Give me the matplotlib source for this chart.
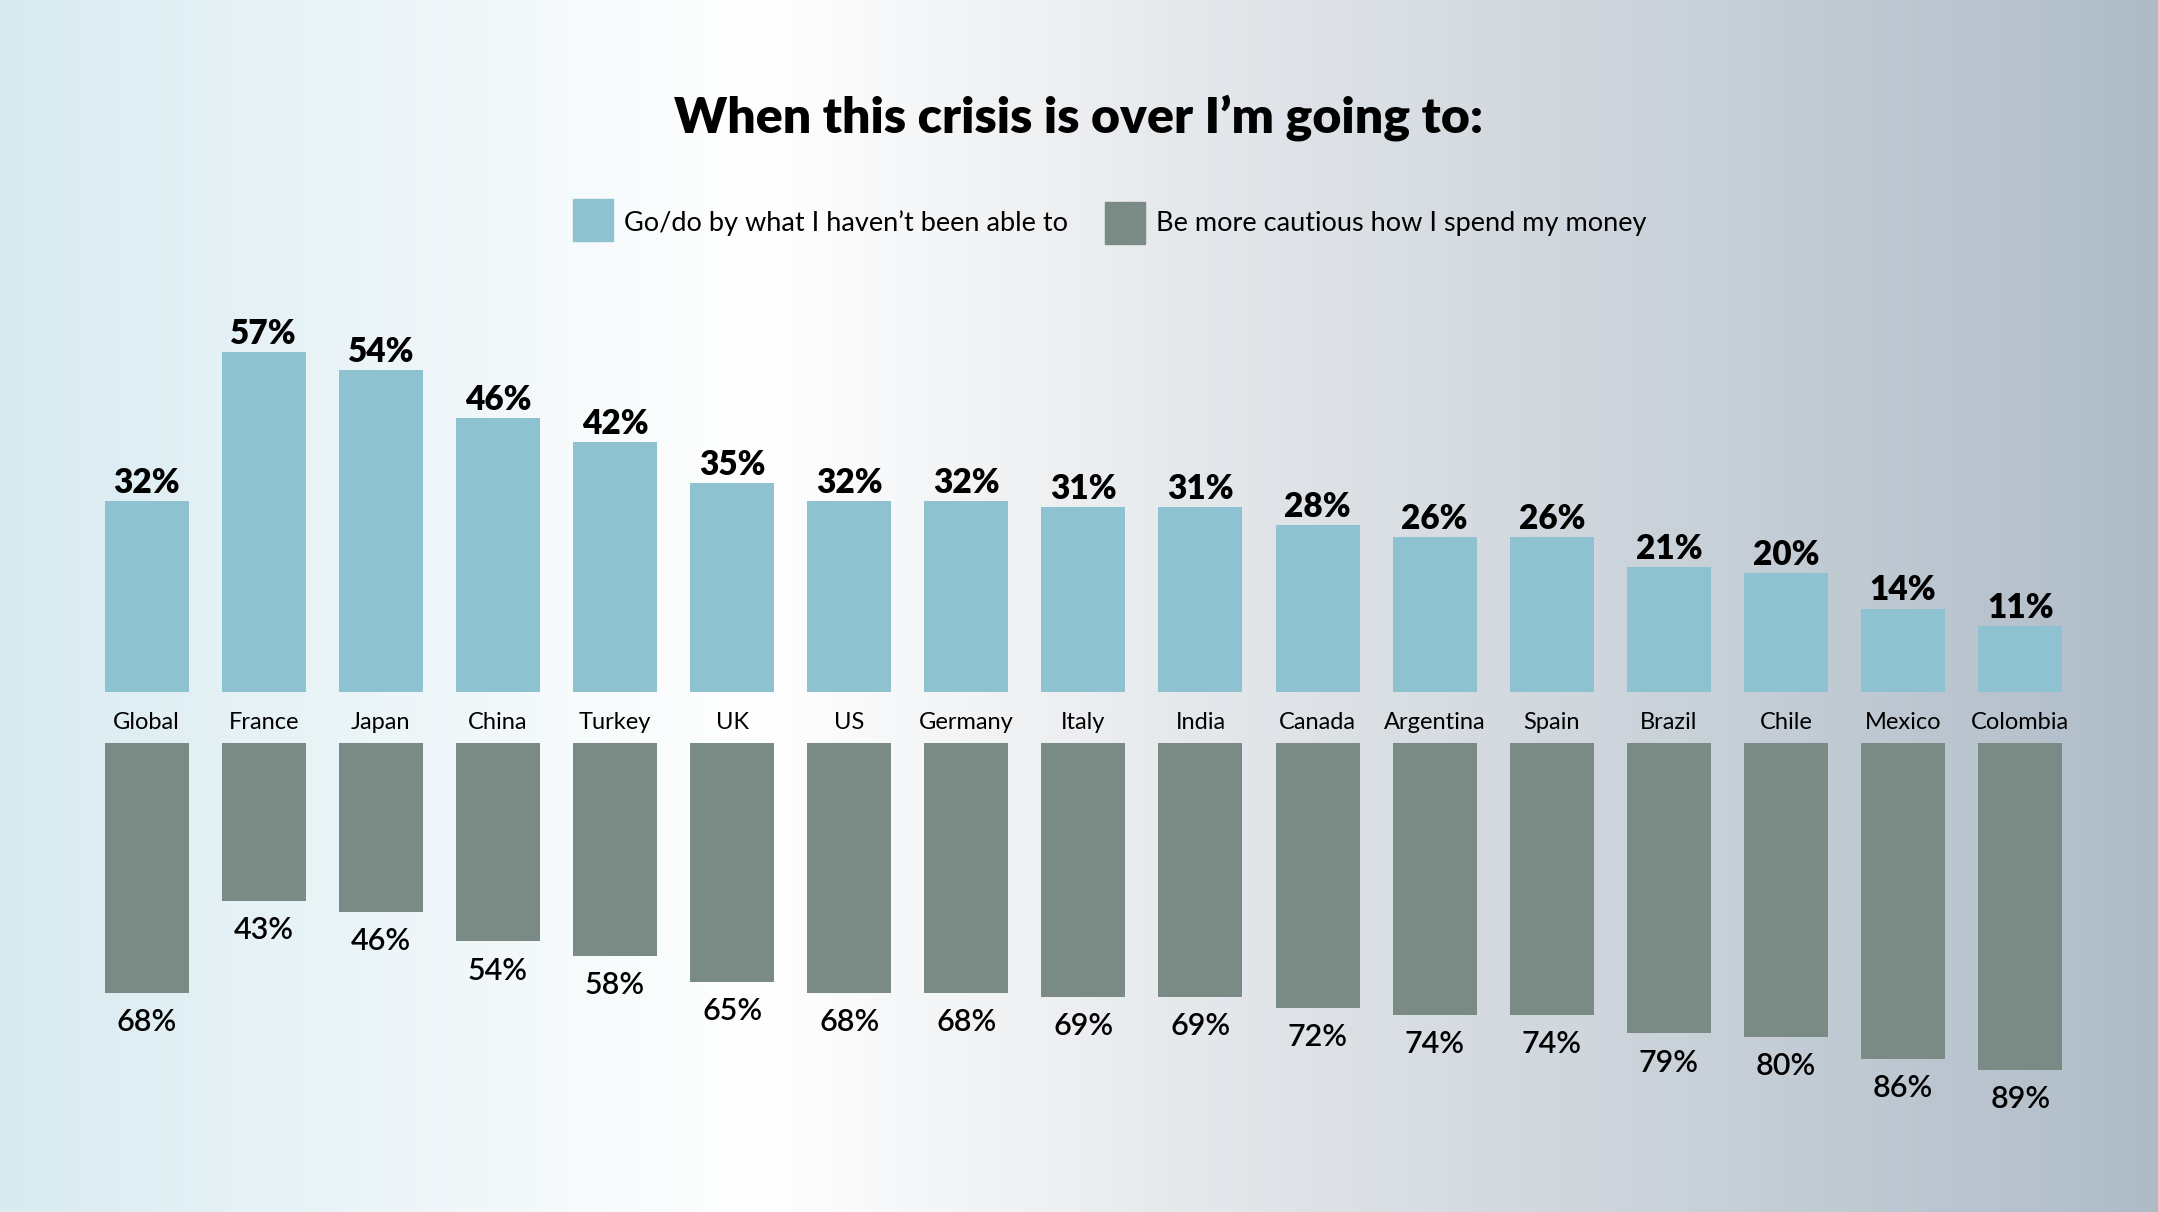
import numpy as np
import matplotlib.pyplot as plt
from matplotlib.colors import LinearSegmentedColormap
from matplotlib.patches import Rectangle

countries = ['Global', 'France', 'Japan', 'China', 'Turkey', 'UK', 'US', 'Germany', 'Italy',
             'India', 'Canada', 'Argentina', 'Spain', 'Brazil', 'Chile', 'Mexico', 'Colombia']
go_do = [32, 57, 54, 46, 42, 35, 32, 32, 31, 31, 28, 26, 26, 21, 20, 14, 11]
cautious = [68, 43, 46, 54, 58, 65, 68, 68, 69, 69, 72, 74, 74, 79, 80, 86, 89]

label_go = "Go/do by what I haven\u2019t been able to"
label_cautious = "Be more cautious how I spend my money"
title = "When this crisis is over I\u2019m going to:"

c_top = '#8fc2d1'
c_bot = '#7a8a84'

plt.rcParams['font.family'] = ['Lato', 'DejaVu Sans']

W, H = 2158, 1212
fig = plt.figure(figsize=(W / 100, H / 100), dpi=100)

# background gradient
bg = fig.add_axes([0, 0, 1, 1], zorder=-10)
cmap = LinearSegmentedColormap.from_list('bg', [(0, '#d9ebf1'), (0.35, '#ffffff'),
                                                (0.6, '#dfe3e7'), (1, '#afbcc8')])
bg.imshow(np.linspace(0, 1, 512)[None, :], aspect='auto', cmap=cmap, extent=[0, 1, 0, 1])
bg.axis('off')

x = np.arange(len(countries))
step = 117.1
c0 = 146.6
xlim = (-c0 / step, (W - c0) / step)
bw = 84 / step

# top bars (go/do)
top_base = 692
top_scale = 5.96
top_max = 65
ax1 = fig.add_axes([0, (H - top_base) / H, 1, top_max * top_scale / H])
ax1.bar(x, go_do, width=bw, color=c_top)
ax1.set_xlim(*xlim)
ax1.set_ylim(0, top_max)
ax1.axis('off')
for xi, v in zip(x, go_do):
    ax1.annotate(f'{v}%', (xi, v), xytext=(0, 1.5), textcoords='offset points',
                 ha='center', va='bottom', fontsize=24, fontweight='heavy', color='black')

# bottom bars (cautious)
bot_top = 743
bot_scale = 3.675
bot_max = 100
ax2 = fig.add_axes([0, (H - bot_top - bot_max * bot_scale) / H, 1, bot_max * bot_scale / H])
ax2.bar(x, cautious, width=bw, color=c_bot)
ax2.set_xlim(*xlim)
ax2.set_ylim(bot_max, 0)
ax2.axis('off')
for xi, v in zip(x, cautious):
    ax2.annotate(f'{v}%', (xi, v), xytext=(0, -11), textcoords='offset points',
                 ha='center', va='top', fontsize=22, fontweight='semibold', color='black')

# country labels
for xi, name in zip(x, countries):
    ax2.annotate(name, (xi, 0), xytext=(0, 15), textcoords='offset points',
                 ha='center', va='center', fontsize=17, color='black')

# title
fig.text(0.5, 1 - 118 / H, title, ha='center', va='center', fontsize=36,
         fontweight='heavy', color='black')

# legend
ly = 1 - 220 / H
sq_w, sq_h = 40 / W, 42 / H
fig.patches.append(Rectangle((573 / W, ly - sq_h / 2), sq_w, sq_h, color=c_top,
                             transform=fig.transFigure, figure=fig))
fig.text(624 / W, ly - 3 / H, label_go, ha='left', va='center', fontsize=19.5, color='black')
fig.patches.append(Rectangle((1105 / W, ly - sq_h / 2 - 3 / H), sq_w, sq_h, color=c_bot,
                             transform=fig.transFigure, figure=fig))
fig.text(1156 / W, ly - 3 / H, label_cautious, ha='left', va='center', fontsize=19.5, color='black')

fig.savefig('out.png', dpi=100)
